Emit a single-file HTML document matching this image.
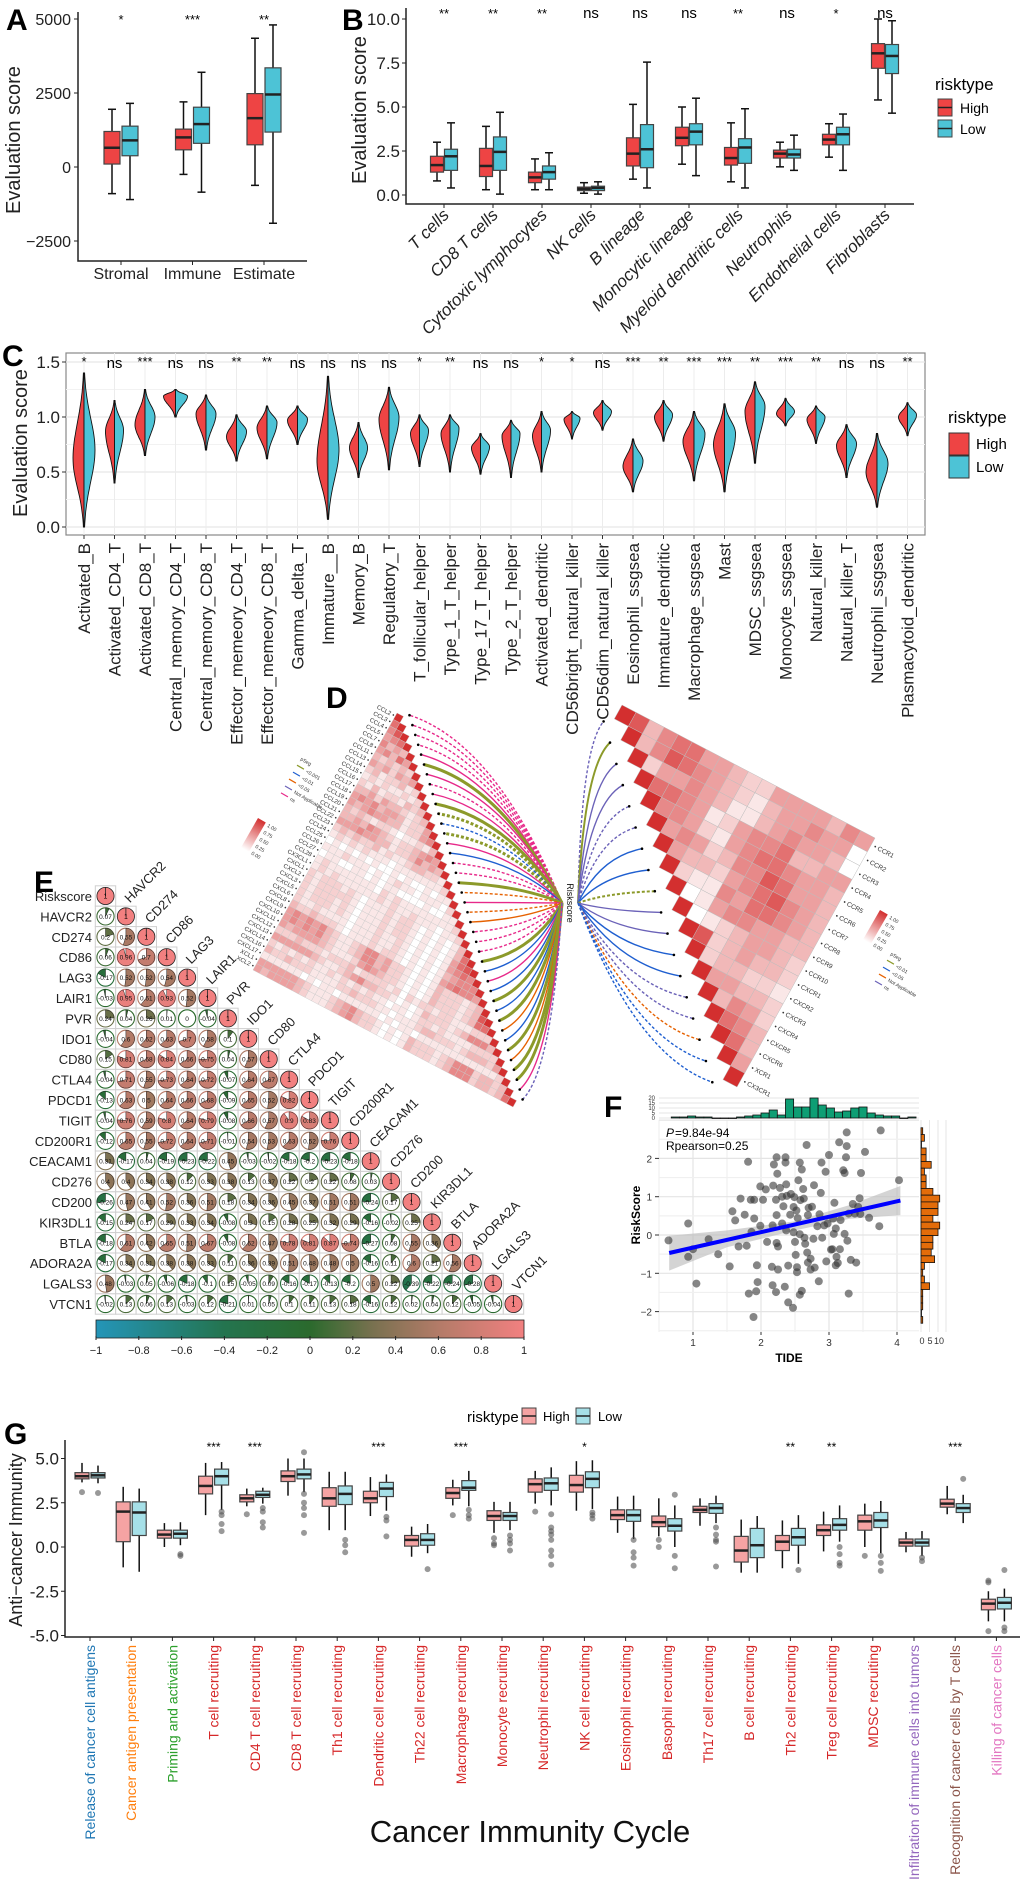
<!DOCTYPE html>
<html><head><meta charset="utf-8"><title>Immune landscape figure</title>
<style>
html,body{margin:0;padding:0;background:#fff;}
svg{display:block;font-family:"Liberation Sans",Arial,sans-serif;}
.n{font-family:"Liberation Sans Narrow","Liberation Sans",sans-serif;}
</style></head>
<body>
<svg id="fig" width="1020" height="1884" viewBox="0 0 1020 1884" xmlns="http://www.w3.org/2000/svg">
<rect x="0" y="0" width="1020" height="1884" fill="#fff"/>
<g id="gA"></g>
<g id="gB"></g>
<g id="gC"></g>
<g id="gD"></g>
<g id="gE"></g>
<g id="gF"></g>
<g id="gG"></g>
</svg>
<script>
// ---------------- DATA ----------------
// Panel A
const aCats=['Stromal','Immune','Estimate'];
const aHigh=[[-900,100,650,1200,1950],[-250,580,1000,1280,2200],[-620,750,1650,2480,4350]];
const aLow=[[-1100,380,900,1380,2150],[-850,800,1450,2020,3200],[-1900,1180,2450,3350,4800]];
const aSig=['*','***','**'];
const aTicks=[5000,2500,0,-2500];
// Panel B
const bCats=['T cells','CD8 T cells','Cytotoxic lymphocytes','NK cells','B lineage','Monocytic lineage','Myeloid dendritic cells','Neutrophils','Endothelial cells','Fibroblasts'];
const bHigh=[[0.8,1.3,1.7,2.2,3.0],[0.3,1.05,1.65,2.65,3.9],[0.3,0.7,1.0,1.3,2.05],[0.1,0.25,0.35,0.45,0.7],[0.9,1.65,2.35,3.25,5.15],[1.75,2.8,3.25,3.85,5.0],[0.75,1.7,2.1,2.7,4.1],[1.6,2.1,2.35,2.55,3.0],[2.15,2.85,3.15,3.45,4.05],[5.4,7.2,8.05,8.6,10.0]];
const bLow=[[0.4,1.4,2.2,2.6,4.1],[0.05,1.4,2.45,3.3,4.7],[0.3,0.9,1.3,1.65,2.4],[0.05,0.25,0.4,0.5,0.75],[0.4,1.55,2.6,4.0,7.55],[1.1,2.85,3.6,4.05,5.5],[0.4,1.8,2.7,3.2,4.9],[1.4,2.1,2.3,2.6,3.4],[1.4,2.85,3.45,3.85,4.6],[4.65,6.9,7.9,8.55,9.9]];
const bSig=['**','**','**','ns','ns','ns','**','ns','*','ns'];
const bTicks=[0,2.5,5,7.5,10];
// Panel C
const cCats=['Activated_B','Activated_CD4_T','Activated_CD8_T','Central_memory_CD4_T','Central_memory_CD8_T','Effector_memeory_CD4_T','Effector_memeory_CD8_T','Gamma_delta_T','Immature__B','Memory_B','Regulatory_T','T_follicular_helper','Type_1_T_helper','Type_17_T_helper','Type_2_T_helper','Activated_dendritic','CD56bright_natural_killer','CD56dim_natural_killer','Eosinophil_ssgsea','Immature_dendritic','Macrophage_ssgsea','Mast','MDSC_ssgsea','Monocyte_ssgsea','Natural_killer','Natural_killer_T','Neutrophil_ssgsea','Plasmacytoid_dendritic'];
const cHighCenter=[0.62,0.87,0.93,1.19,1.03,0.82,0.90,0.97,0.60,0.72,0.98,0.85,0.85,0.72,0.83,0.83,0.98,1.04,0.55,1.00,0.78,0.75,1.05,1.03,0.98,0.74,0.50,1.00];
const cLowCenter=[0.70,0.88,1.00,1.19,1.03,0.87,0.95,0.98,0.70,0.72,1.00,0.88,0.90,0.73,0.85,0.88,0.99,1.05,0.60,1.02,0.85,0.85,1.10,1.05,1.00,0.76,0.58,1.02];
const cMin=[0.0,0.40,0.65,1.00,0.70,0.60,0.62,0.75,0.07,0.45,0.52,0.55,0.50,0.48,0.45,0.50,0.80,0.88,0.32,0.78,0.42,0.32,0.58,0.92,0.76,0.45,0.18,0.83];
const cMax=[1.40,1.15,1.25,1.25,1.20,1.02,1.10,1.10,1.37,0.95,1.27,1.02,1.02,0.85,0.97,1.05,1.05,1.15,0.80,1.15,1.05,1.12,1.32,1.17,1.10,0.93,0.85,1.13];
const cPeak=[11,9,10,12,10,10,10,10,11,9,10,9,9,9,9,9,8,9,10,9,11,11,10,9,9,10,11,9];
const cSig=['*','ns','***','ns','ns','**','**','ns','ns','ns','ns','*','**','ns','ns','*','*','ns','***','**','***','***','**','***','**','ns','ns','**'];
const cTicks=[0,0.5,1,1.5];
// Panel D
const dLeftGenes=['CCL2','CCL3','CCL4','CCL5','CCL7','CCL8','CCL11','CCL13','CCL14','CCL15','CCL16','CCL17','CCL18','CCL19','CCL20','CCL21','CCL22','CCL23','CCL24','CCL25','CCL26','CCL27','CCL28','CX3CL1','CXCL1','CXCL2','CXCL3','CXCL5','CXCL6','CXCL8','CXCL9','CXCL10','CXCL11','CXCL12','CXCL13','CXCL14','CXCL16','CXCL17','XCL1','XCL2'];
const dLeftCorr=['','6','57','456','5343','45364','323232','4342434','23122312','121211212','2131221323','33424332123','454534431224','4345443312245','32321221011213','334354321223454','4445443312235343','23232231211233221','121212111011111112','0101010100101001011','11121110101211011102','011001101011000010011','1211111110212111111112','12121111112121121110112','212221210111212210101013','2122222101112122101010136','21222121011121221010101467','212221210111211210101014565','2112111101112112101010134555','32232221011121221010101456554','454545321123553422101013222123','4545453211235534221010132221237','43444432111245432210101322212366','222322212223122221202122122111222','4444443211234533221010132221235553','21212121121212121101101221211112222','322322211112232221101112332221233324','1111110101101111110101101111111111112','44444432111234532210101322212355523323','434444321112345322101013222123555233236'];
const dLeftLink=['md','md','md','md','ms','os','ms','md','ms','os','od','bd','od','ms','bs','md','md','os','rd','ms','rd','rs','md','md','md','os','bs','ms','bs','os','bs','os','rs','bs','os','rs','os','os','ms','pd'];
const dRightGenes=['CCR1','CCR2','CCR3','CCR4','CCR5','CCR6','CCR7','CCR8','CCR9','CCR10','CXCR1','CXCR2','CXCR3','CXCR4','CXCR5','CXCR6','XCR1','CX3CR1'];
const dRightCorr=['73566443224444354','3576543213445440','244543113454430','66541245563344','5542145665443','454235576443','43324567543','2115466543','014554433','01234432','7234332','233221','44332','3542','653','63','4',''];
const dRightLink=['pd','os','ps','ps','pd','pd','bs','bs','od','ps','ps','bs','bs','pd','pd','rd','bd','bd'];
// Panel E
const eGenes=['Riskscore','HAVCR2','CD274','CD86','LAG3','LAIR1','PVR','IDO1','CD80','CTLA4','PDCD1','TIGIT','CD200R1','CEACAM1','CD276','CD200','KIR3DL1','BTLA','ADORA2A','LGALS3','VTCN1'];
const eCorr=[[],[0.07],[0.2,0.55],[0.06,0.96,0.7],[-0.17,0.52,0.52,0.54],[-0.03,0.95,0.61,0.93,0.52],[0.24,0.04,0.26,0.01,0,-0.04],[-0.04,0.6,0.62,0.63,0.7,0.58,0.1],[0.15,0.81,0.68,0.84,0.66,0.75,0.04,0.57],[-0.04,0.71,0.55,0.73,0.64,0.72,-0.07,0.64,0.67],[-0.13,0.63,0.5,0.64,0.66,0.68,-0.09,0.65,0.52,0.82],[-0.04,0.76,0.59,0.8,0.64,0.79,-0.08,0.66,0.57,0.9,0.83],[-0.12,0.65,0.55,0.72,0.64,0.71,-0.01,0.54,0.53,0.63,0.52,0.76],[0.31,-0.17,0.04,-0.19,-0.23,-0.22,0.45,-0.03,-0.02,-0.18,-0.2,-0.23,-0.18],[0.4,0.4,0.34,0.38,0.12,0.33,0.38,0.13,0.37,0.22,0.2,0.22,0.08,0.03],[-0.26,0.47,0.41,0.52,0.36,0.51,0.18,0.34,0.36,0.45,0.37,0.51,0.51,-0.24,0.17],[-0.15,0.24,0.17,0.29,0.33,0.34,-0.08,0.3,0.15,0.28,0.25,0.32,0.29,-0.16,-0.02,0.25],[-0.18,0.61,0.42,0.65,0.51,0.67,-0.08,0.62,0.47,0.78,0.81,0.87,0.74,-0.27,0.08,0.55,0.36],[-0.17,0.34,0.31,0.38,0.38,0.33,0.11,0.36,0.39,0.51,0.48,0.48,0.5,-0.16,0.11,0.6,0.21,0.56],[0.48,-0.03,0.05,-0.06,-0.18,-0.1,0.15,-0.05,0.09,-0.16,-0.17,-0.13,-0.2,0.5,0.22,-0.39,-0.22,-0.24,-0.28],[-0.02,0.13,0.06,0.13,-0.03,0.12,-0.21,0.01,0.05,0.1,0.11,0.13,0.18,-0.16,0.12,0.02,0.04,0.12,-0.05,-0.04]];
const eBarTicks=[-1,-0.8,-0.6,-0.4,-0.2,0,0.2,0.4,0.6,0.8,1];
// Panel F
const fTide=[0.64,0.93,0.93,1.05,1.0,1.23,1.37,1.54,1.58,1.62,1.67,1.7,1.76,1.79,1.81,1.82,1.85,1.9,1.9,1.86,1.89,1.93,1.94,1.95,1.99,1.99,2.07,2.03,2.09,2.17,2.16,2.17,2.18,2.19,2.22,2.23,2.24,2.23,2.22,2.23,2.25,2.25,2.28,2.31,2.31,2.33,2.35,2.36,2.36,2.37,2.37,2.38,2.4,2.4,2.43,2.44,2.47,2.48,2.48,2.49,2.5,2.51,2.52,2.53,2.53,2.54,2.55,2.57,2.57,2.57,2.58,2.6,2.6,2.62,2.63,2.64,2.65,2.67,2.68,2.69,2.69,2.7,2.73,2.73,2.75,2.77,2.78,2.79,2.83,2.85,2.86,2.88,2.89,2.9,2.93,2.95,2.96,2.98,3.0,3.03,3.05,3.06,3.07,3.08,3.1,3.1,3.11,3.13,3.15,3.16,3.17,3.21,3.23,3.23,3.25,3.26,3.26,3.27,3.29,3.29,3.32,3.35,3.38,3.4,3.43,3.45,3.46,3.47,3.53,3.59,3.74,3.76,4.03];
const fRisk=[-0.14,0.3,-0.57,-1.27,-0.37,-0.11,-0.5,-0.82,0.62,0.38,-0.3,0.95,0.53,-0.28,1.91,-1.53,0.92,0.92,0.43,0.08,-2.14,-1.47,-0.79,-1.23,1.27,0.24,1.19,0.92,-0.18,0.25,-0.83,-1.31,1.29,1.84,-1.49,2.03,1.6,0.52,0.92,-0.21,-0.9,-0.3,1.23,1.0,0.3,0.75,-1.35,1.89,2.03,1.32,0.12,1.02,-0.8,-1.76,0.53,1.07,-1.9,0.07,0.73,0.99,-0.18,-0.52,0.64,-0.97,-0.84,0.44,1.43,1.89,0.02,-1.56,0.91,-1.46,1.71,1.2,0.95,-0.07,-0.23,2.35,-0.46,0.52,-0.72,0.71,-0.62,-0.9,0.74,-0.1,1.3,-0.85,0.23,-1.21,0.54,1.1,1.89,-0.07,0.25,1.65,-0.69,0.3,2.09,-0.38,-0.37,0.43,0.03,0.84,0.17,-0.79,-0.57,-0.73,2.42,-0.37,0.39,1.69,1.62,0.03,2.03,2.32,2.68,-0.15,-1.53,0.56,-0.65,0.81,0.56,-0.72,0.73,0.96,0.55,1.62,2.17,0.45,0.23,2.73,1.43];
const fFitX=[0.65,4.05];
const fFitY=[-0.47,0.9];
const fCiX=[0.65,1.5,2.5,3.3,4.05];
const fCiLo=[-0.93,-0.32,0.12,0.42,0.52];
const fCiHi=[-0.02,0.12,0.36,0.78,1.28];
const fTopCounts=[1,1,2,1,1,0,0,0,1,2,3,5,8,3,19,11,11,20,13,10,6,7,10,11,5,3,2,2,0,1];
const fTopStart=0.68, fTopBin=0.12;
const fRightCounts=[1,2,0,3,3,6,2,3,3,7,11,10,10,7,11,10,7,7,6,8,2,1,2,5,1,1,1,0,1];
const fRightStart=2.8, fRightBin=0.176;
const fXTicks=[1,2,3,4], fYTicks=[2,1,0,-1,-2];
// Panel G
const gCats=['Release of cancer cell antigens','Cancer antigen presentation','Priming and activation','T cell recruiting','CD4 T cell recruiting','CD8 T cell recruiting','Th1 cell recruiting','Dendritic cell recruiting','Th22 cell recruiting','Macrophage recruiting','Monocyte recruiting','Neutrophil recruiting','NK cell recruiting','Eosinophil recruiting','Basophil recruiting','Th17 cell recruiting','B cell recruiting','Th2 cell recruiting','Treg cell recruiting','MDSC recruiting','Infiltration of immune cells into tumors','Recognition of cancer cells by T cells','Killing of cancer cells'];
const gStep=[1,2,3,4,4,4,4,4,4,4,4,4,4,4,4,4,4,4,4,4,5,6,7];
const gHigh=[[3.65,3.85,4.0,4.2,4.75],[-1.15,0.3,2.0,2.55,3.4],[0.0,0.5,0.7,0.95,1.35],[1.8,3.0,3.45,4.0,4.75],[2.3,2.55,2.75,2.95,3.3],[2.9,3.7,4.0,4.3,5.0],[0.95,2.3,2.75,3.35,4.25],[1.75,2.5,2.75,3.15,3.95],[-0.55,0.05,0.4,0.65,1.15],[2.35,2.75,3.05,3.35,3.8],[0.8,1.5,1.75,2.05,2.55],[2.45,3.1,3.55,3.85,4.3],[2.05,3.1,3.5,4.05,4.85],[0.8,1.55,1.8,2.1,2.85],[0.6,1.15,1.4,1.75,2.75],[1.2,1.95,2.1,2.3,2.75],[-1.45,-0.85,-0.2,0.6,1.55],[-1.2,-0.2,0.3,0.65,1.5],[-0.25,0.65,0.95,1.25,2.0],[0.0,0.95,1.45,1.8,2.45],[-0.3,0.05,0.25,0.45,0.85],[1.85,2.25,2.45,2.7,3.45],[-4.2,-3.55,-3.2,-2.95,-2.5]];
const gLow=[[3.6,3.9,4.05,4.2,4.6],[-1.4,0.65,1.95,2.55,3.3],[0.1,0.5,0.75,0.95,1.4],[2.1,3.5,4.0,4.4,4.8],[2.45,2.8,2.95,3.15,3.35],[3.1,3.85,4.1,4.4,5.0],[0.95,2.4,3.0,3.45,4.25],[2.05,2.85,3.3,3.65,4.1],[-0.35,0.1,0.4,0.75,1.3],[2.3,3.2,3.35,3.75,4.3],[0.95,1.5,1.75,1.95,2.55],[2.35,3.2,3.6,3.9,4.5],[2.15,3.35,3.85,4.25,4.9],[0.45,1.45,1.8,2.1,2.9],[0.0,0.9,1.2,1.6,2.35],[1.35,1.9,2.2,2.45,2.9],[-1.45,-0.6,0.1,1.05,1.75],[-0.95,0.1,0.55,1.05,1.8],[0.3,0.95,1.25,1.6,2.35],[-0.35,1.1,1.5,1.95,2.6],[-0.5,0.05,0.25,0.45,0.9],[1.35,1.95,2.2,2.45,2.95],[-4.2,-3.5,-3.15,-2.85,-2.35]];
const gOutHigh=[[3.1],[],[],[],[1.85],[],[],[],[],[1.8],[0.5,0.2,0.1],[2.0],[],[],[0.4,0.0],[],[],[],[],[-0.5],[],[],[-2.0,-1.9,-4.75]];
const gOutLow=[[3.05],[],[-0.4,-0.5],[2.0,1.8,1.3,0.9],[2.2,2.0,1.4,1.1],[5.35,3.0,2.5,2.2,1.8,0.8],[0.4,0.1,-0.3],[1.7,1.5,0.6],[-1.25],[2.1,1.8,1.6],[0.65,0.4,0.2,-0.2],[1.85,1.1,0.9,0.7,0.4,-0.2,-0.5,-1.0],[1.95,1.8,1.6],[0.4,-0.3,-0.6,-1.05],[2.95,-0.5,-1.2],[1.1,0.7,0.4,0.3,-1.1],[],[-1.3],[0.0,-0.4,-0.9,-1.05],[-0.5,-0.9,-1.35],[-0.6,-0.8],[3.85],[-1.3,-4.55,-4.75]];
const gSig=['','','','***','***','','','***','','***','','','*','','','','','**','**','','','***',''];
const gTicks=[5,2.5,0,-2.5,-5];
const gTickLabels=['5.0','2.5','0.0','-2.5','-5.0'];

// ---------------- HELPERS ----------------
const NS='http://www.w3.org/2000/svg';
function mk(tag,attrs,parent){const e=document.createElementNS(NS,tag);for(const k in attrs)e.setAttribute(k,attrs[k]);parent.appendChild(e);return e;}
function txt(s,x,y,attrs,parent){const e=mk('text',Object.assign({x:x,y:y},attrs),parent);e.textContent=s;return e;}
const RED='#EE4444', BLUE='#4DC3D6', PINK='#F5A3A3', LBLUE='#A6E0E8';

function drawBox(g,cx,w,st,yf,fill,caps,name){
  const wl=mk('line',{x1:cx,x2:cx,y1:yf(st[0]),y2:yf(st[4]),stroke:'#111','stroke-width':1.5},g);
  
  
  if(caps){
    const c1=mk('line',{x1:cx-4,x2:cx+4,y1:yf(st[0]),y2:yf(st[0]),stroke:'#111','stroke-width':1.5},g);
    
    
    const c2=mk('line',{x1:cx-4,x2:cx+4,y1:yf(st[4]),y2:yf(st[4]),stroke:'#111','stroke-width':1.5},g);
    
    
  }
  const r=mk('rect',{x:cx-w/2,y:yf(st[3]),width:w,height:Math.max(1,yf(st[1])-yf(st[3])),fill:fill,stroke:'#444','stroke-width':1.2},g);
  
  
  const m=mk('line',{x1:cx-w/2,x2:cx+w/2,y1:yf(st[2]),y2:yf(st[2]),stroke:'#222','stroke-width':2.5},g);
  
  
}

// ---------------- PANEL A ----------------
(function(){
  const g=document.getElementById('gA');
  const yA=v=>167-v*(74/2500), xA=i=>121+i*71.5;
  const L=txt('A',6,30,{'font-size':30,'font-weight':'bold'},g);
  
  
  const ax=mk('path',{d:'M78,12 V261 H307',fill:'none',stroke:'#222','stroke-width':1.5},g);
  
  
  aTicks.forEach(t=>{
    const tk=mk('line',{x1:74,x2:78,y1:yA(t),y2:yA(t),stroke:'#222'},g);
    
    
    const tl=txt(String(t).replace('-','−'),71,yA(t)+6,{'font-size':16,'text-anchor':'end',fill:'#222'},g);
    
    
  });
  const yt=txt('Evaluation score',0,0,{'font-size':20,'text-anchor':'middle',transform:'translate(20,140) rotate(-90)',fill:'#222'},g);
  
  
  aCats.forEach((c,i)=>{
    drawBox(g,xA(i)-9,16,aHigh[i],yA,RED,true,'a-'+c.toLowerCase()+'-high');
    drawBox(g,xA(i)+9,16,aLow[i],yA,BLUE,true,'a-'+c.toLowerCase()+'-low');
    const tk=mk('line',{x1:xA(i),x2:xA(i),y1:261,y2:265,stroke:'#222'},g);
    
    
    const cl=txt(c,xA(i),279,{'font-size':16,'text-anchor':'middle',fill:'#222'},g);
    
    
    const s=txt(aSig[i],xA(i),24,{'font-size':13,'text-anchor':'middle'},g);
    
    
  });
})();

// ---------------- PANEL B ----------------
(function(){
  const g=document.getElementById('gB');
  const yB=v=>195-v*17.6, xB=i=>444+49*i;
  const L=txt('B',342,30,{'font-size':30,'font-weight':'bold'},g);
  
  
  const ax=mk('path',{d:'M406,8 V204 H914',fill:'none',stroke:'#222','stroke-width':1.5},g);
  
  
  bTicks.forEach(t=>{
    const tk=mk('line',{x1:402,x2:406,y1:yB(t),y2:yB(t),stroke:'#222'},g);
    
    
    const tl=txt(t.toFixed(1),400,yB(t)+6,{'font-size':17,'text-anchor':'end',class:'n',fill:'#222'},g);
    
    
  });
  const yt=txt('Evaluation score',0,0,{'font-size':20,'text-anchor':'middle',transform:'translate(366,110) rotate(-90)',fill:'#222'},g);
  
  
  bCats.forEach((c,i)=>{
    drawBox(g,xB(i)-7,13,bHigh[i],yB,RED,true,'b-cat'+i+'-high');
    drawBox(g,xB(i)+7,13,bLow[i],yB,BLUE,true,'b-cat'+i+'-low');
    const tk=mk('line',{x1:xB(i),x2:xB(i),y1:204,y2:208,stroke:'#222'},g);
    
    
    const cl=txt(c,0,0,{'font-size':17,'font-style':'italic','text-anchor':'end',transform:'translate('+(xB(i)+6)+',216) rotate(-45)',fill:'#222'},g);
    
    
    const s=txt(bSig[i],xB(i),18,{'font-size':bSig[i]==='ns'?15:13,'text-anchor':'middle',class:'n'},g);
    
    
  });
  const lt=txt('risktype',935,90,{'font-size':17,class:'n'},g);
  
  
  [['High',RED,99],['Low',BLUE,120]].forEach(k=>{
    const r=mk('rect',{x:938,y:k[2],width:14,height:17,fill:k[1],stroke:'#444'},g);
    
    
    const m=mk('line',{x1:938,x2:952,y1:k[2]+8.5,y2:k[2]+8.5,stroke:'#222','stroke-width':1.5},g);
    
    
    const t=txt(k[0],960,k[2]+14,{'font-size':14,class:'n'},g);
    
    
  });
})();

// ---------------- PANEL C ----------------
(function(){
  const g=document.getElementById('gC');
  const yC=v=>527-v*110, xC=i=>84+30.5*i;
  const L=txt('C',2,366,{'font-size':30,'font-weight':'bold'},g);
  
  
  const bg=mk('rect',{x:66,y:353,width:859,height:182,fill:'#fff',stroke:'#888','stroke-width':1.2},g);
  
  
  [0.25,0.75,1.25].forEach(v=>{
    const gl=mk('line',{x1:66,x2:925,y1:yC(v),y2:yC(v),stroke:'#f2f2f2'},g);
    
    
  });
  cTicks.forEach(t=>{
    const gl=mk('line',{x1:66,x2:925,y1:yC(t),y2:yC(t),stroke:'#e6e6e6','stroke-width':1.2},g);
    
    
    const tk=mk('line',{x1:62,x2:66,y1:yC(t),y2:yC(t),stroke:'#333'},g);
    
    
    const tl=txt(t.toFixed(1),60,yC(t)+6,{'font-size':17,'text-anchor':'end',class:'n',fill:'#222'},g);
    
    
  });
  const yt=txt('Evaluation score',0,0,{'font-size':20,'text-anchor':'middle',transform:'translate(27,443) rotate(-90)',fill:'#222'},g);
  
  
  function half(cx,c,mn,mx,pk,dir){
    const su=(mx-c)/2.4, sd=(c-mn)/2.4; let pts=[];
    for(let k=0;k<=40;k++){const v=mn+(mx-mn)*k/40; const s=v>c?su:sd; const d=Math.exp(-0.5*Math.pow((v-c)/s,2)); pts.push([cx+dir*pk*d,yC(v)]);}
    return 'M'+cx+','+yC(mn)+' L'+pts.map(p=>p[0].toFixed(1)+','+p[1].toFixed(1)).join(' L')+' L'+cx+','+yC(mx)+' Z';
  }
  cCats.forEach((c,i)=>{
    const gl=mk('line',{x1:xC(i),x2:xC(i),y1:353,y2:535,stroke:'#ececec'},g);
    
    
  });
  cCats.forEach((c,i)=>{
    const h=mk('path',{d:half(xC(i),cHighCenter[i],cMin[i],cMax[i],cPeak[i],-1),fill:RED,stroke:'#111','stroke-width':0.9},g);
    
    
    const l=mk('path',{d:half(xC(i),cLowCenter[i],cMin[i],cMax[i],cPeak[i],1),fill:BLUE,stroke:'#111','stroke-width':0.9},g);
    
    
    const tk=mk('line',{x1:xC(i),x2:xC(i),y1:535,y2:539,stroke:'#333'},g);
    
    
    const cl=txt(c,0,0,{'font-size':17,'text-anchor':'end',transform:'translate('+(xC(i)+6)+',543) rotate(-90)',fill:'#222'},g);
    
    
    const s=txt(cSig[i],xC(i),cSig[i]==='ns'?368:366,{'font-size':cSig[i]==='ns'?15:13,'text-anchor':'middle',class:'n'},g);
    
    
  });
  const lt=txt('risktype',948,423,{'font-size':17,class:'n'},g);
  
  
  [['High',RED,433],['Low',BLUE,456]].forEach(k=>{
    const r=mk('rect',{x:949,y:k[2],width:20,height:22,fill:k[1],stroke:'#333'},g);
    
    
    const t=txt(k[0],976,k[2]+16,{'font-size':15,class:'n'},g);
    
    
  });
})();

// ---------------- PANEL D ----------------
(function(){
  const g=document.getElementById('gD');
  const L=txt('D',326,708,{'font-size':30,'font-weight':'bold'},g);
  
  
  function heat(v){const t=Math.max(0,Math.min(1,v));const gg=Math.round(255-(255-40)*t),b=Math.round(255-(255-40)*t);return 'rgb('+Math.round(255-43*t)+','+gg+','+b+')';}
  const linkCol={m:'#E7298A',o:'#8C9A2A',b:'#1F5FD0',r:'#E66101',p:'#6B62B8'};
  function P(o,a,ua,b,ub){return [o[0]+a*ua[0]+b*ub[0],o[1]+a*ua[1]+b*ub[1]];}
  const T=[397,713], Lc=[253,970], B=[513,1107], n=dLeftGenes.length;
  const u=[(Lc[0]-T[0])/n,(Lc[1]-T[1])/n], v=[(B[0]-Lc[0])/n,(B[1]-Lc[1])/n];
  const hubL=[562,903];
  for(let i=0;i<n;i++){
    for(let j=0;j<=i;j++){
      const val=(i===j)?1:parseInt(dLeftCorr[i][j])/10;
      const p1=P(T,i,u,j,v),p2=P(T,i+1,u,j,v),p3=P(T,i+1,u,j+1,v),p4=P(T,i,u,j+1,v);
      const c=mk('path',{d:'M'+p1+' L'+p2+' L'+p3+' L'+p4+' Z',fill:i===j?'#D32F2F':heat(val*1.1),stroke:'#c8c8c8','stroke-width':0.4},g);
      
      
    }
    const lp=P(T,i+0.5,u,-0.3,v);
    const lb=txt(dLeftGenes[i]+' •',0,0,{'font-size':6,'text-anchor':'end',transform:'translate('+lp[0].toFixed(1)+','+(lp[1]+2).toFixed(1)+') rotate(27.8)',fill:'#333'},g);
    
    
  }
  for(let i=0;i<n;i++){
    const ctr=P(T,i+0.5,u,i+0.5,v); const e=[ctr[0]+(v[0]-u[0])*0.9+2,ctr[1]+(v[1]-u[1])*0.9];
    const code=dLeftLink[i]; const col=linkCol[code[0]]; const thick=code[0]==='o'?3:1.4;
    const cp=[(e[0]+hubL[0])/2+10,e[1]+(hubL[1]-e[1])*0.15];
    const ln=mk('path',{d:'M'+hubL+' Q'+cp[0].toFixed(1)+','+cp[1].toFixed(1)+' '+e[0].toFixed(1)+','+e[1].toFixed(1),fill:'none',stroke:col,'stroke-width':thick,'stroke-dasharray':code[1]==='d'?'3,2':'none'},g);
    
    
    const d=mk('circle',{cx:e[0].toFixed(1),cy:e[1].toFixed(1),r:1.3,fill:'#000'},g);
    
    
  }
  const T2=[622,705], R2=[875,838], B2=[737,1087], m=dRightGenes.length;
  const p=[(R2[0]-T2[0])/m,(R2[1]-T2[1])/m], q=[(B2[0]-R2[0])/m,(B2[1]-R2[1])/m];
  const hubR=[578,903];
  for(let i=0;i<m;i++){
    for(let j=i;j<m;j++){
      const val=(i===j)?1:parseInt(dRightCorr[i][j-i-1])/10;
      const p1=P(T2,j,p,i,q),p2=P(T2,j+1,p,i,q),p3=P(T2,j+1,p,i+1,q),p4=P(T2,j,p,i+1,q);
      const c=mk('path',{d:'M'+p1+' L'+p2+' L'+p3+' L'+p4+' Z',fill:i===j?'#D32F2F':heat(val*1.1),stroke:'#bdbdbd','stroke-width':0.5},g);
      
      
    }
    const lp=P(T2,m+0.15,p,i+0.5,q);
    const lb=txt('• '+dRightGenes[i],0,0,{'font-size':6.5,transform:'translate('+lp[0].toFixed(1)+','+(lp[1]+2).toFixed(1)+') rotate(27.7)',fill:'#333'},g);
    
    
    const ctr=P(T2,i+0.5,p,i+0.5,q); const e=[ctr[0]+(q[0]-p[0])*0.9-2,ctr[1]+(q[1]-p[1])*0.9];
    const code=dRightLink[i]; const col=linkCol[code[0]]; const thick=code[0]==='o'?2:1.4;
    const cp=[(e[0]+hubR[0])/2-10,e[1]+(hubR[1]-e[1])*0.15];
    const ln=mk('path',{d:'M'+hubR+' Q'+cp[0].toFixed(1)+','+cp[1].toFixed(1)+' '+e[0].toFixed(1)+','+e[1].toFixed(1),fill:'none',stroke:col,'stroke-width':thick,'stroke-dasharray':code[1]==='d'?'3,2':'none'},g);
    
    
    const d=mk('circle',{cx:e[0].toFixed(1),cy:e[1].toFixed(1),r:1.3,fill:'#000'},g);
    
    
  }
  const rs=txt('Riskscore',0,0,{'font-size':9,'text-anchor':'middle',transform:'translate(567,903) rotate(90)',fill:'#111'},g);
  
  
  [[258,818],[880,910]].forEach((pos,k)=>{
    const lg=mk('g',{transform:'translate('+pos[0]+','+pos[1]+') rotate(30)'},g);
    
    
    const defs=mk('linearGradient',{id:'dg'+k,x1:0,y1:1,x2:0,y2:0},lg);
    mk('stop',{offset:0,'stop-color':'#fff'},defs);
    mk('stop',{offset:1,'stop-color':'#D32F2F'},defs);
    const r=mk('rect',{x:0,y:0,width:9,height:34,fill:'url(#dg'+k+')'},lg);
    
    
    ['1.00','0.75','0.50','0.25','0.00'].forEach((s,ii)=>{
      const t=txt(s,12,3+ii*8,{'font-size':5,fill:'#333'},lg);
      
      
    });
  });
  [[300,760,['pSeg','<0.001','<0.01','<0.05','Not Applicable','ns']],[890,955,['pSeg','<0.01','<0.05','Not Applicable','ns']]].forEach(cfg=>{
    const lg=mk('g',{transform:'translate('+cfg[0]+','+cfg[1]+') rotate(30)'},g);
    
    
    const cols=['#8C9A2A','#1F5FD0','#E66101','#6B62B8','#E7298A'];
    cfg[2].forEach((s,ii)=>{
      if(ii>0){const l=mk('line',{x1:0,x2:8,y1:ii*8-2,y2:ii*8-2,stroke:cols[ii-1],'stroke-width':1.2},lg);
        
        }
      const t=txt(s,ii?11:0,ii*8,{'font-size':5,fill:'#333'},lg);
      
      
    });
  });
})();

// ---------------- PANEL E ----------------
(function(){
  const g=document.getElementById('gE');
  const xE=j=>105.5+20.4*j, yE=i=>896+20.4*i;
  const stops=[[-1,[36,149,184]],[-0.4,[36,116,79]],[0,[43,106,45]],[0.3,[122,113,80]],[0.6,[179,123,104]],[1,[242,128,128]]];
  function cmap(v){for(let k=0;k<stops.length-1;k++){if(v<=stops[k+1][0]){const t=(v-stops[k][0])/(stops[k+1][0]-stops[k][0]);const a=stops[k][1],b=stops[k+1][1];return 'rgb('+a.map((c,ii)=>Math.round(c+(b[ii]-c)*t)).join(',')+')';}}return 'rgb(242,128,128)';}
  const L=txt('E',34,892,{'font-size':30,'font-weight':'bold'},g);
  
  
  eGenes.forEach((gn,i)=>{
    const rl=txt(gn,92,yE(i)+5,{'font-size':13,'text-anchor':'end',fill:'#222'},g);
    
    
    for(let j=0;j<=i;j++){
      const cx=xE(j), cy=yE(i), R=8.6;
      const cell=mk('rect',{x:cx-10.2,y:cy-10.2,width:20.4,height:20.4,fill:'#fff',stroke:'#cfcfcf','stroke-width':1},g);
      
      
      if(i===j){
        const c=mk('circle',{cx:cx,cy:cy,r:R,fill:'#F28080',stroke:'#222','stroke-width':0.8},g);
        
        
        const tl=mk('line',{x1:cx,x2:cx,y1:cy,y2:cy-R,stroke:'#222','stroke-width':0.8},g);
        
        
        const t=txt('1',cx,cy+2.5,{'font-size':7,'text-anchor':'middle'},g);
        
        
      } else {
        const r=eCorr[i][j], col=cmap(r);
        const c=mk('circle',{cx:cx,cy:cy,r:R,fill:'#fff',stroke:col,'stroke-width':1.1},g);
        
        
        const a=Math.abs(r)*2*Math.PI, sgn=r<0?-1:1;
        if(Math.abs(r)>0.005){
          const ex=cx+sgn*R*Math.sin(a), ey=cy-R*Math.cos(a);
          const d='M'+cx+','+cy+' L'+cx+','+(cy-R)+' A'+R+','+R+' 0 '+(a>Math.PI?1:0)+' '+(r<0?0:1)+' '+ex.toFixed(2)+','+ey.toFixed(2)+' Z';
          const s=mk('path',{d:d,fill:col,stroke:'#222','stroke-width':0.5},g);
          
          
        }
        const t=txt(String(r),cx,cy+2.5,{'font-size':6.5,'text-anchor':'middle',fill:'#111'},g);
        
        
      }
    }
    if(i>0){
      const cl=txt(gn,0,0,{'font-size':13,transform:'translate('+(xE(i)+4)+','+(yE(i)-13)+') rotate(-45)',fill:'#222'},g);
      
      
    }
  });
  const defs=mk('defs',{},g);
  const lg=mk('linearGradient',{id:'eGrad',x1:0,x2:1,y1:0,y2:0},defs);
  stops.forEach(s=>{mk('stop',{offset:((s[0]+1)/2),'stop-color':'rgb('+s[1].join(',')+')'},lg);});
  const bar=mk('rect',{x:96,y:1320,width:428,height:18,fill:'url(#eGrad)',stroke:'#222','stroke-width':0.8},g);
  
  
  eBarTicks.forEach(t=>{
    const x=96+(t+1)/2*428;
    const tk=mk('line',{x1:x,x2:x,y1:1336,y2:1340,stroke:'#222'},g);
    
    
    const tl=txt(String(t).replace('-','−'),x,1354,{'font-size':11,'text-anchor':'middle',fill:'#222'},g);
    
    
  });
})();

// ---------------- PANEL F ----------------
(function(){
  const g=document.getElementById('gF');
  const xF=v=>625+v*68, yF=v=>1235-v*38.3;
  const L=txt('F',604,1117,{'font-size':30,'font-weight':'bold'},g);
  
  
  const pn=mk('rect',{x:659,y:1120,width:260,height:212,fill:'#fff'},g);
  
  
  for(let v=0.5;v<=4.3;v+=0.5){
    const gl=mk('line',{x1:xF(v),x2:xF(v),y1:1120,y2:1332,stroke:v%1===0?'#e4e4e4':'#f0f0f0','stroke-width':1.2},g);
    
    
  }
  for(let v=-2.5;v<=3;v+=0.5){
    const gl=mk('line',{x1:659,x2:919,y1:yF(v),y2:yF(v),stroke:v%1===0?'#e4e4e4':'#f0f0f0','stroke-width':1.2},g);
    
    
  }
  const ci=mk('path',{d:'M'+fCiX.map((x,i)=>xF(x).toFixed(1)+','+yF(fCiHi[i]).toFixed(1)).join(' L')+' L'+fCiX.slice().reverse().map((x,i)=>xF(x).toFixed(1)+','+yF(fCiLo[fCiX.length-1-i]).toFixed(1)).join(' L')+' Z',fill:'#bdbdbd','fill-opacity':0.65},g);
  
  
  fTide.forEach((x,i)=>{
    const c=mk('circle',{cx:xF(x).toFixed(1),cy:yF(fRisk[i]).toFixed(1),r:4,fill:'#333','fill-opacity':0.6},g);
    
    
  });
  const fl=mk('line',{x1:xF(fFitX[0]),y1:yF(fFitY[0]),x2:xF(fFitX[1]),y2:yF(fFitY[1]),stroke:'#0000FF','stroke-width':4},g);
  
  
  const t1=txt('=9.84e-94',675,1137,{'font-size':12},g);
  
  
  const t1p=txt('P',666,1137,{'font-size':12,'font-style':'italic'},g);
  
  
  const t2=txt('Rpearson=0.25',666,1150,{'font-size':12},g);
  
  
  fXTicks.forEach(t=>{
    const tk=mk('line',{x1:xF(t),x2:xF(t),y1:1332,y2:1335,stroke:'#333'},g);
    
    
    const tl=txt(String(t),xF(t),1346,{'font-size':10,'text-anchor':'middle',fill:'#333'},g);
    
    
  });
  fYTicks.forEach(t=>{
    const tk=mk('line',{x1:655,x2:659,y1:yF(t),y2:yF(t),stroke:'#333'},g);
    
    
    const tl=txt(String(t).replace('-','−'),652,yF(t)+4,{'font-size':10,'text-anchor':'end',fill:'#333'},g);
    
    
  });
  const xt=txt('TIDE',789,1362,{'font-size':12,'font-weight':'bold','text-anchor':'middle'},g);
  
  
  const yt=txt('RiskScore',0,0,{'font-size':12,'font-weight':'bold','text-anchor':'middle',transform:'translate(640,1215) rotate(-90)'},g);
  
  
  for(let k=0;k<5;k++){
    const gl=mk('line',{x1:659,x2:919,y1:1118-k*5,y2:1118-k*5,stroke:'#e6e6e6'},g);
    
    
  }
  ['0','5','10','15','20'].forEach((s,k)=>{
    const t=txt(s,655,1120-k*5,{'font-size':6,'text-anchor':'end',fill:'#333'},g);
    
    
  });
  fTopCounts.forEach((c,k)=>{
    const x0=xF(fTopStart+k*fTopBin);
    const r=mk('rect',{x:x0,y:1118-c,width:fTopBin*68,height:Math.max(c,0.5),fill:'#0E9E74',stroke:'#111','stroke-width':0.8},g);
    
    
  });
  [921,929.5,938,946].forEach(x=>{
    const gl=mk('line',{x1:x,x2:x,y1:1120,y2:1332,stroke:'#e6e6e6'},g);
    
    
  });
  fRightCounts.forEach((c,k)=>{
    const yTop=yF(fRightStart-k*fRightBin);
    const r=mk('rect',{x:921,y:yTop,width:Math.max(c*1.7,0.5),height:fRightBin*38.3,fill:'#E36C0A',stroke:'#111','stroke-width':0.8},g);
    
    
  });
  [['0',922],['5',930],['10',939]].forEach(a=>{
    const t=txt(a[0],a[1],1344,{'font-size':9,'text-anchor':'middle',fill:'#333'},g);
    
    
  });
})();

// ---------------- PANEL G ----------------
(function(){
  const g=document.getElementById('gG');
  const yG=v=>1547-v*17.7, xG=i=>90+41.2*i;
  const stepColor={1:'#1F77B4',2:'#FF7F0E',3:'#2CA02C',4:'#D62728',5:'#9467BD',6:'#8C564B',7:'#E377C2'};
  const L=txt('G',4,1444,{'font-size':30,'font-weight':'bold'},g);
  
  
  const ax=mk('path',{d:'M65,1440 V1637 H1020',fill:'none',stroke:'#222','stroke-width':1.5},g);
  
  
  gTicks.forEach((t,k)=>{
    const tk=mk('line',{x1:61,x2:65,y1:yG(t),y2:yG(t),stroke:'#222'},g);
    
    
    const tl=txt(gTickLabels[k],59,yG(t)+6,{'font-size':17,'text-anchor':'end',class:'n',fill:'#222'},g);
    
    
  });
  const yt=txt('Anti−cancer Immunity',0,0,{'font-size':18,'text-anchor':'middle',transform:'translate(22,1540) rotate(-90)',fill:'#222'},g);
  
  
  gCats.forEach((c,i)=>{
    drawBox(g,xG(i)-8,14,gHigh[i],yG,PINK,false,'g-cat'+i+'-high');
    drawBox(g,xG(i)+8,14,gLow[i],yG,LBLUE,false,'g-cat'+i+'-low');
    gOutHigh[i].forEach(v=>{
      const o=mk('circle',{cx:xG(i)-8,cy:yG(v),r:3,fill:'#555','fill-opacity':0.6},g);
      
      
    });
    gOutLow[i].forEach(v=>{
      const o=mk('circle',{cx:xG(i)+8,cy:yG(v),r:3,fill:'#555','fill-opacity':0.6},g);
      
      
    });
    const tk=mk('line',{x1:xG(i),x2:xG(i),y1:1637,y2:1641,stroke:'#222'},g);
    
    
    const cl=txt(c,0,0,{'font-size':14,'text-anchor':'end',transform:'translate('+(xG(i)+5)+',1645) rotate(-90)',fill:stepColor[gStep[i]]},g);
    
    
    if(gSig[i]){
      const s=txt(gSig[i],xG(i),1451,{'font-size':12,'text-anchor':'middle',class:'n'},g);
      
      
    }
  });
  const xt=txt('Cancer Immunity Cycle',530,1842,{'font-size':31,'text-anchor':'middle',class:'n',fill:'#111'},g);
  
  
  const lt=txt('risktype',467,1422,{'font-size':15,class:'n'},g);
  
  
  [['High',PINK,522,543],['Low',LBLUE,576,598]].forEach(k=>{
    const r=mk('rect',{x:k[2],y:1408,width:14,height:16,fill:k[1],stroke:'#444'},g);
    
    
    const m=mk('line',{x1:k[2],x2:k[2]+14,y1:1416,y2:1416,stroke:'#222','stroke-width':1.5},g);
    
    
    const t=txt(k[0],k[3],1421,{'font-size':13,class:'n'},g);
    
    
  });
})();
</script>
</body></html>
